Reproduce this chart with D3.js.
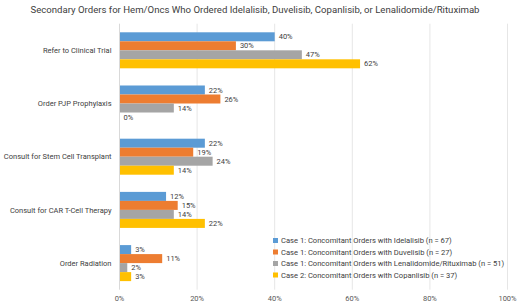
<!DOCTYPE html>
<html>
<head>
<meta charset="utf-8">
<script src="https://cdn.jsdelivr.net/npm/d3@7"></script>
<style>
  body { margin: 0; background: #fff; }
  svg { display: block; font-family: Roboto, "Noto Sans", sans-serif; }
</style>
</head>
<body>
<div id="chart"></div>
<script>
// Categories (top to bottom) and series values in percent
const categories = [
    "Refer to Clinical Trial",
    "Order PJP Prophylaxis",
    "Consult for Stem Cell Transplant",
    "Consult for CAR T-Cell Therapy",
    "Order Radiation"
];
const seriesNames = [
    "Case 1: Concomitant Orders with Idelalisib (n = 67)",
    "Case 1: Concomitant Orders with Duvelisib (n = 27)",
    "Case 1: Concomitant Orders with Lenalidomide/Rituximab (n = 51)",
    "Case 2: Concomitant Orders with Copanlisib (n = 37)"
];
const idelalisib = [40, 22, 22, 12, 3];
const duvelisib = [30, 26, 19, 15, 11];
const lenRit = [47, 14, 24, 14, 2];
const copanlisib = [62, 0, 14, 22, 3];
const xTicks = [0, 20, 40, 60, 80, 100];
const colors = ["#5B9BD5", "#ED7D31", "#A5A5A5", "#FFC000"];

const width = 520, height = 304;
const margin = { top: 23.7, right: 12.5, bottom: 14.3, left: 119.5 };
const innerW = width - margin.left - margin.right;
const innerH = height - margin.top - margin.bottom;

const seriesValues = [idelalisib, duvelisib, lenRit, copanlisib];
const rows = [];
categories.forEach((c, i) => {
    seriesValues.forEach((vals, s) => {
        rows.push({ category: c, series: seriesNames[s], value: vals[i], s: s });
    });
});

const svg = d3.select("#chart").append("svg")
    .attr("width", width)
    .attr("height", height);

// Title
svg.append("text")
    .attr("x", 255)
    .attr("y", 13)
    .attr("text-anchor", "middle")
    .style("font-size", "9.6px")
    .style("fill", "#404040")
    .text("Secondary Orders for Hem/Oncs Who Ordered Idelalisib, Duvelisib, Copanlisib, or Lenalidomide/Rituximab");

const g = svg.append("g")
    .attr("transform", `translate(${margin.left},${margin.top})`);

const x = d3.scaleLinear().domain([0, 100]).range([0, innerW]);
const y0 = d3.scaleBand()
    .domain(categories)
    .range([0, innerH])
    .paddingInner(0.323)
    .paddingOuter(0.1615);
const y1 = d3.scaleBand()
    .domain(d3.range(seriesNames.length))
    .range([0, y0.bandwidth()]);

// Grid lines
g.append("g")
    .selectAll("line")
    .data(xTicks.slice(1))
    .join("line")
    .attr("x1", d => x(d)).attr("x2", d => x(d))
    .attr("y1", 0).attr("y2", innerH)
    .attr("stroke", "#e6e6e6")
    .attr("stroke-width", 1);

// Bars
g.append("g")
    .selectAll("rect")
    .data(rows)
    .join("rect")
    .attr("x", 0)
    .attr("y", d => y0(d.category) + y1(d.s))
    .attr("width", d => x(d.value))
    .attr("height", y1.bandwidth())
    .attr("fill", d => colors[d.s]);

// Vertical axis line
g.append("line")
    .attr("x1", 0).attr("x2", 0)
    .attr("y1", 0).attr("y2", innerH)
    .attr("stroke", "#d9d9d9");

// Value labels
g.append("g")
    .selectAll("text")
    .data(rows)
    .join("text")
    .attr("x", d => x(d.value) + 4)
    .attr("y", d => y0(d.category) + y1(d.s) + y1.bandwidth() / 2)
    .attr("dy", "0.35em")
    .style("font-size", "7.5px")
    .style("fill", "#404040")
    .text(d => d.value + "%");

// Category labels
g.append("g")
    .selectAll("text")
    .data(categories)
    .join("text")
    .attr("x", -8)
    .attr("y", d => y0(d) + y0.bandwidth() / 2)
    .attr("dy", "0.35em")
    .attr("text-anchor", "end")
    .style("font-size", "7.5px")
    .style("fill", "#404040")
    .text(d => d);

// X axis tick labels
g.append("g")
    .selectAll("text")
    .data(xTicks)
    .join("text")
    .attr("x", d => x(d))
    .attr("y", innerH + 11.5)
    .attr("text-anchor", "middle")
    .style("font-size", "7.5px")
    .style("fill", "#595959")
    .text(d => d + "%");

// Legend
const legend = svg.append("g")
    .attr("transform", "translate(273, 240.5)");
seriesNames.forEach((name, i) => {
    const item = legend.append("g")
        .attr("transform", `translate(0, ${i * 11.5})`);
    item.append("rect")
        .attr("x", 0).attr("y", -2.5)
        .attr("width", 5).attr("height", 5)
        .attr("fill", colors[i]);
    item.append("text")
        .attr("x", 8)
        .attr("y", 0)
        .attr("dy", "0.35em")
        .style("font-size", "7.6px")
        .style("fill", "#404040")
        .text(name);
});
</script>
</body>
</html>
